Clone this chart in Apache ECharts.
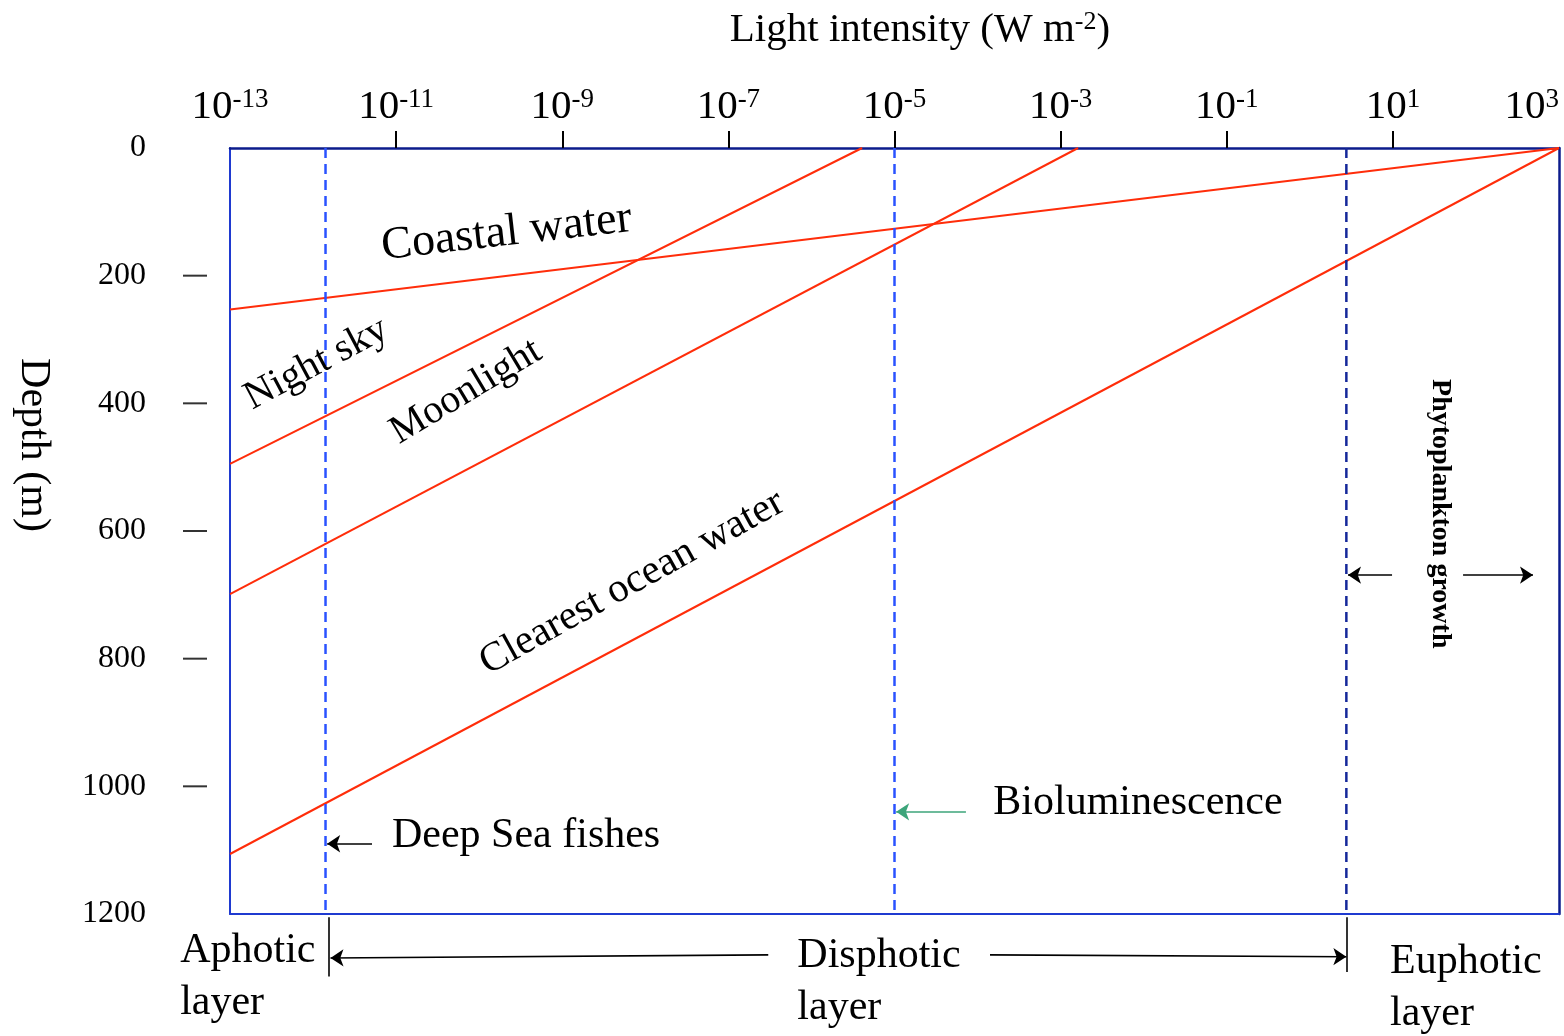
<!DOCTYPE html>
<html>
<head>
<meta charset="utf-8">
<script src="https://cdn.jsdelivr.net/npm/echarts@6/dist/echarts.min.js"></script>
<style>
html,body{margin:0;padding:0;background:#fff}
#chart{width:1564px;height:1036px}
</style>
</head>
<body>
<div id="chart"></div>
<script>
// ---------- DATA ----------
// x values are log10 of light intensity (W m^-2), y values are depth (m)
const xTickExponents = [-13, -11, -9, -7, -5, -3, -1, 1, 3];
const xTickMarks = [-11, -9, -7, -5, -3, -1, 1];
const depthTickLabels = [0, 200, 400, 600, 800, 1000, 1200];
const depthTickMarks = [200, 400, 600, 800, 1000];

const coastalWater   = [[3, 0], [-13, 253]];
const nightSky       = [[-5.39, 0], [-13, 495]];
const moonlight      = [[-2.79, 0], [-13, 699]];
const clearestOcean  = [[3, 0], [-13, 1106]];

const deepSeaFishesLimit   = -11.85;
const bioluminescenceLimit = -5.0;
const phytoplanktonLimit   = 0.44;

// ---------- STYLE ----------
const FONT = "'Liberation Serif', 'Times New Roman', serif";
const NAVY = '#0c1c8c';
const BLUE = '#1f3ad0';
const RED = '#ff2d0a';
const DASH_BRIGHT = '#2a52ff';
const DASH_NAVY = '#15289a';
const GREEN = '#3ca57a';

const chart = echarts.init(document.getElementById('chart'), null, {renderer: 'canvas'});

function redLine(name, data) {
  return {
    name, type: 'line', data, xAxisIndex: 0, yAxisIndex: 0,
    symbol: 'none', silent: true, z: 3,
    lineStyle: {color: RED, width: 2}
  };
}
function dashLine(name, x, color) {
  return {
    name, type: 'line', data: [[x, 0], [x, 1200]], xAxisIndex: 0, yAxisIndex: 0,
    symbol: 'none', silent: true, z: 4,
    lineStyle: {color, width: 2.5, type: [10, 6]}
  };
}

const option = {
  animation: false,
  backgroundColor: '#fff',
  grid: {left: 230, top: 148, right: 5, bottom: 122, containLabel: false},
  xAxis: [
    {
      type: 'value', position: 'top', min: -13, max: 3,
      axisLine: {show: true, onZero: false, lineStyle: {color: NAVY, width: 2.5}},
      axisTick: {show: true, inside: false, length: 17, customValues: xTickMarks,
                 lineStyle: {color: '#000', width: 2}},
      axisLabel: {
        show: true, customValues: xTickExponents, margin: 20,
        alignMinLabel: 'center', alignMaxLabel: 'right',
        formatter: v => '{b|10}{s|' + v + '}',
        rich: {
          b: {fontFamily: FONT, fontSize: 41, color: '#000', lineHeight: 42},
          s: {fontFamily: FONT, fontSize: 27, color: '#000', verticalAlign: 'top', lineHeight: 27}
        }
      },
      splitLine: {show: false}
    },
    {
      type: 'value', position: 'bottom', min: -13, max: 3,
      axisLine: {show: true, onZero: false, lineStyle: {color: BLUE, width: 2}},
      axisTick: {show: false}, axisLabel: {show: false}, splitLine: {show: false}
    }
  ],
  yAxis: [
    {
      type: 'value', inverse: true, min: 0, max: 1200, position: 'left',
      axisLine: {show: true, onZero: false, lineStyle: {color: BLUE, width: 2}},
      axisTick: {show: false},
      axisLabel: {show: true, customValues: depthTickLabels, margin: 84,
                  fontFamily: FONT, fontSize: 32, color: '#000',
                  formatter: v => String(v)},
      splitLine: {show: false}
    },
    {
      type: 'value', inverse: true, min: 0, max: 1200, position: 'right',
      axisLine: {show: true, onZero: false, lineStyle: {color: NAVY, width: 2.5}},
      axisTick: {show: false}, axisLabel: {show: false}, splitLine: {show: false}
    }
  ],
  series: [
    redLine('Coastal water', coastalWater),
    redLine('Night sky', nightSky),
    redLine('Moonlight', moonlight),
    redLine('Clearest ocean water', clearestOcean),
    dashLine('Deep sea fishes limit', deepSeaFishesLimit, DASH_BRIGHT),
    dashLine('Bioluminescence limit', bioluminescenceLimit, DASH_BRIGHT),
    dashLine('Phytoplankton limit', phytoplanktonLimit, DASH_NAVY),
    {
      // detached depth tick marks, left of the frame
      name: 'depth ticks', type: 'scatter', xAxisIndex: 0, yAxisIndex: 0,
      clip: false, silent: true, z: 5,
      data: depthTickMarks.map(d => [-13, d]),
      symbol: 'rect', symbolSize: [24, 2], symbolOffset: [-35, 0],
      itemStyle: {color: '#000'}
    },
    {
      name: 'arrows', type: 'lines', coordinateSystem: 'cartesian2d',
      xAxisIndex: 0, yAxisIndex: 0, clip: false, silent: true, z: 5,
      symbol: ['none', 'arrow'], symbolSize: 13,
      lineStyle: {color: '#000', width: 1.6, opacity: 1, curveness: 0},
      data: [
        {coords: [[-11.29, 1090], [-11.83, 1090]]},
        {coords: [[-4.14, 1040], [-4.98, 1040]], lineStyle: {color: GREEN}},
        {coords: [[0.99, 669], [0.46, 669]]},
        {coords: [[1.845, 669], [2.687, 669]]},
        {coords: [[-6.52, 1264], [-11.79, 1269]]},
        {coords: [[-3.85, 1264], [0.44, 1267]]}
      ]
    },
    {
      name: 'brackets', type: 'lines', coordinateSystem: 'cartesian2d',
      xAxisIndex: 0, yAxisIndex: 0, clip: false, silent: true, z: 5,
      symbol: ['none', 'none'],
      lineStyle: {color: '#000', width: 1.6, opacity: 1, curveness: 0},
      data: [
        {coords: [[-11.81, 1205], [-11.81, 1298]]},
        {coords: [[0.45, 1205], [0.45, 1291]]}
      ]
    }
  ]
};

chart.setOption(option);

// Annotation texts, anchored in data coordinates
const annotations = [
  {text: 'Coastal water', at: [-9.67, 133], rot: 6.5, size: 46},
  {text: 'Night sky', at: [-11.96, 338], rot: 28, size: 40},
  {text: 'Moonlight', at: [-10.16, 382], rot: 31, size: 40},
  {text: 'Clearest ocean water', at: [-8.16, 681], rot: 29, size: 41},
  {text: 'Bioluminescence', at: [-3.81, 1026], align: 'left', size: 42},
  {text: 'Deep Sea fishes', at: [-11.05, 1078], align: 'left', size: 42},
  {text: 'Phytoplankton growth', at: [1.57, 573], rot: -90, size: 28, weight: 'bold'},
  {text: 'Aphotic\nlayer', at: [-13.6, 1298], align: 'left', size: 42, lh: 52},
  {text: 'Disphotic\nlayer', at: [-6.17, 1306], align: 'left', size: 42, lh: 52},
  {text: 'Euphotic\nlayer', at: [0.966, 1316], align: 'left', size: 42, lh: 52}
];

const graphics = annotations.map(a => {
  const p = chart.convertToPixel({xAxisIndex: 0, yAxisIndex: 0}, a.at);
  return {
    type: 'text', x: p[0], y: p[1],
    rotation: (a.rot || 0) * Math.PI / 180,
    silent: true, z: 10,
    style: {
      text: a.text, fill: '#000',
      fontFamily: FONT, fontSize: a.size, fontWeight: a.weight || 'normal',
      lineHeight: a.lh || a.size,
      align: a.align || 'center', verticalAlign: 'middle'
    }
  };
});

// Axis titles
graphics.push({
  type: 'text', x: 920, y: 30, silent: true, z: 10,
  style: {
    text: 'Light intensity (W m{s|-2})', fill: '#000',
    fontFamily: FONT, fontSize: 41, align: 'center', verticalAlign: 'middle',
    rich: {s: {fontFamily: FONT, fontSize: 26, verticalAlign: 'top', lineHeight: 26, fill: '#000'}}
  }
});
graphics.push({
  type: 'text', x: 33, y: 445, rotation: -Math.PI / 2, silent: true, z: 10,
  style: {
    text: 'Depth (m)', fill: '#000',
    fontFamily: FONT, fontSize: 42, align: 'center', verticalAlign: 'middle'
  }
});

chart.setOption({graphic: graphics});
</script>
</body>
</html>
